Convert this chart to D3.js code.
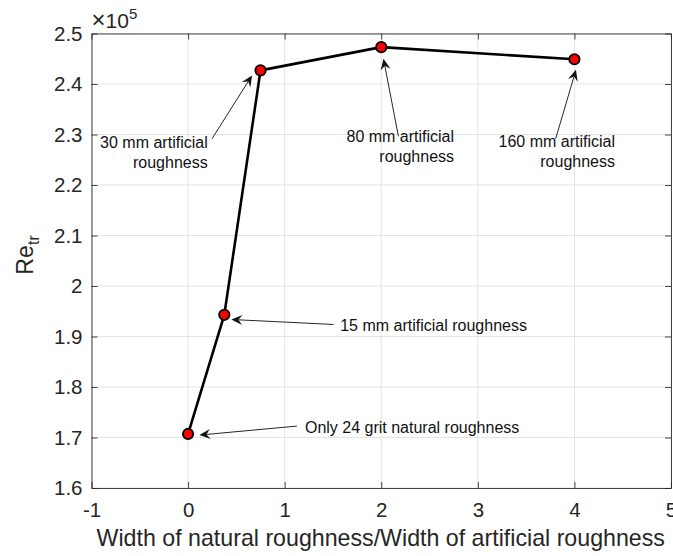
<!DOCTYPE html>
<html>
<head>
<meta charset="utf-8">
<script src="https://cdn.jsdelivr.net/npm/d3@7"></script>
<style>
  html, body { margin: 0; padding: 0; background: #fff; }
  svg { display: block; font-family: "Liberation Sans", Arial, Helvetica, sans-serif; }
</style>
</head>
<body>
<svg id="chart" width="673" height="556"></svg>
<script>
// Transition Reynolds number vs roughness width ratio
const widthRatio = [0, 0.375, 0.75, 2, 4];
const reTransition = [1.707e5, 1.943e5, 2.427e5, 2.473e5, 2.449e5];

const xTickValues = [-1, 0, 1, 2, 3, 4, 5];
const xTickLabels = ["-1", "0", "1", "2", "3", "4", "5"];
const yTickValues = [1.6, 1.7, 1.8, 1.9, 2.0, 2.1, 2.2, 2.3, 2.4, 2.5];
const yTickLabels = ["1.6", "1.7", "1.8", "1.9", "2", "2.1", "2.2", "2.3", "2.4", "2.5"];

// Annotation arrows: text lines, text anchor (data units, x10^5 for y), arrow tail and tip
const noteLines = [
  ["30 mm artificial", "roughness"],
  ["15 mm artificial roughness"],
  ["Only 24 grit natural roughness"],
  ["80 mm artificial", "roughness"],
  ["160 mm artificial", "roughness"]
];
const noteTextX = [0.203, 1.575, 1.21, 2.754, 4.42];
const noteTextY = [2.264, 1.9224, 1.720, 2.2755, 2.266];
const noteAlign = ["end", "start", "start", "end", "end"];
const noteTail = [[0.248, 2.2917], [1.506, 1.9238], [1.127, 1.7226], [2.178, 2.2962], [3.806, 2.2917]];
const noteTip = [[0.662, 2.4169], [0.448, 1.9337], [0.117, 1.7048], [2.023, 2.4499], [4.016, 2.428]];

const svg = d3.select("#chart");
const plotLeft = 91.5, plotRight = 671, plotTop = 33.5, plotBottom = 488;

const x = d3.scaleLinear().domain([-1, 5]).range([plotLeft, plotRight]);
const y = d3.scaleLinear().domain([1.6, 2.5]).range([plotBottom, plotTop]);

const axisColor = "#262626";

// grid
const grid = svg.append("g");
grid.selectAll("line.gx").data(xTickValues).join("line")
  .attr("x1", d => x(d)).attr("x2", d => x(d))
  .attr("y1", plotTop).attr("y2", plotBottom)
  .attr("stroke", "#e3e3e3").attr("stroke-width", 1);
grid.selectAll("line.gy").data(yTickValues).join("line")
  .attr("y1", d => y(d)).attr("y2", d => y(d))
  .attr("x1", plotLeft).attr("x2", plotRight)
  .attr("stroke", "#e3e3e3").attr("stroke-width", 1);

// axes (ticks pointing inward, labels outside)
const xAxis = d3.axisBottom(x).tickValues(xTickValues)
  .tickFormat((d, i) => xTickLabels[i]).tickSizeInner(-6).tickSizeOuter(0).tickPadding(14);
const yAxis = d3.axisLeft(y).tickValues(yTickValues)
  .tickFormat((d, i) => yTickLabels[i]).tickSizeInner(-6).tickSizeOuter(0).tickPadding(9);
const xTop = d3.axisTop(x).tickValues(xTickValues).tickFormat("").tickSizeInner(-6).tickSizeOuter(0);
const yRight = d3.axisRight(y).tickValues(yTickValues).tickFormat("").tickSizeInner(-6).tickSizeOuter(0);

function styleAxis(g) {
  g.select(".domain").attr("stroke", axisColor).attr("stroke-opacity", 0.85);
  g.selectAll(".tick line").attr("stroke", axisColor).attr("stroke-opacity", 0.85);
  g.selectAll(".tick text").attr("fill", axisColor).attr("font-size", 20.5)
    .attr("font-family", "Liberation Sans, Arial, sans-serif");
}

svg.append("g").attr("transform", `translate(0,${plotBottom})`).call(xAxis).call(styleAxis)
  .selectAll(".tick text").attr("dy", "0.71em");
svg.append("g").attr("transform", `translate(${plotLeft},0)`).call(yAxis).call(styleAxis);
svg.append("g").attr("transform", `translate(0,${plotTop})`).call(xTop).call(styleAxis);
svg.append("g").attr("transform", `translate(${plotRight},0)`).call(yRight).call(styleAxis);

// exponent label
const expo = svg.append("text").attr("x", plotLeft).attr("y", 28)
  .attr("fill", axisColor).attr("font-size", 21);
expo.append("tspan").attr("font-size", 24).text("\u00d7");
expo.append("tspan").text("10");
expo.append("tspan").attr("font-size", 15).attr("dy", -9).text("5");

// axis titles
svg.append("text").attr("x", (plotLeft + plotRight) / 2 - 0.5).attr("y", 546)
  .attr("text-anchor", "middle").attr("fill", axisColor).attr("font-size", 23.2)
  .text("Width of natural roughness/Width of artificial roughness");

const yTitle = svg.append("text")
  .attr("transform", "translate(33,255) rotate(-90)")
  .attr("text-anchor", "middle").attr("fill", axisColor).attr("font-size", 23.2);
yTitle.append("tspan").text("Re");
yTitle.append("tspan").attr("font-size", 16).attr("dy", 6).text("tr");

// data line and markers
const data = widthRatio.map((v, i) => ({ x: v, y: reTransition[i] / 1e5 }));
svg.append("path").datum(data)
  .attr("d", d3.line().x(d => x(d.x)).y(d => y(d.y)))
  .attr("fill", "none").attr("stroke", "#000").attr("stroke-width", 2.6)
  .attr("stroke-linejoin", "round");
svg.selectAll("circle.pt").data(data).join("circle")
  .attr("cx", d => x(d.x)).attr("cy", d => y(d.y)).attr("r", 5.2)
  .attr("fill", "#ff0000").attr("stroke", "#000").attr("stroke-width", 1.8);

// annotations
const notes = svg.append("g");
noteLines.forEach((lines, i) => {
  const x1 = x(noteTail[i][0]), y1 = y(noteTail[i][1]);
  const x2 = x(noteTip[i][0]), y2 = y(noteTip[i][1]);
  const ang = Math.atan2(y2 - y1, x2 - x1);
  const L = 11, W = 5, notch = 7;
  const ux = Math.cos(ang), uy = Math.sin(ang);
  const px = -uy, py = ux;
  notes.append("line")
    .attr("x1", x1).attr("y1", y1)
    .attr("x2", x2 - ux * notch).attr("y2", y2 - uy * notch)
    .attr("stroke", "#262626").attr("stroke-width", 1);
  const head = [
    [x2, y2],
    [x2 - ux * L + px * W, y2 - uy * L + py * W],
    [x2 - ux * notch, y2 - uy * notch],
    [x2 - ux * L - px * W, y2 - uy * L - py * W]
  ];
  notes.append("path").attr("d", "M" + head.map(p => p.join(",")).join("L") + "Z")
    .attr("fill", "#111");
  const t = notes.append("text")
    .attr("text-anchor", noteAlign[i]).attr("fill", "#111").attr("font-size", 16);
  const n = lines.length;
  lines.forEach((s, k) => {
    t.append("tspan").attr("x", x(noteTextX[i]))
      .attr("y", y(noteTextY[i]) + (k - (n - 1) / 2) * 20)
      .attr("dy", "0.35em").text(s);
  });
});
</script>
</body>
</html>
